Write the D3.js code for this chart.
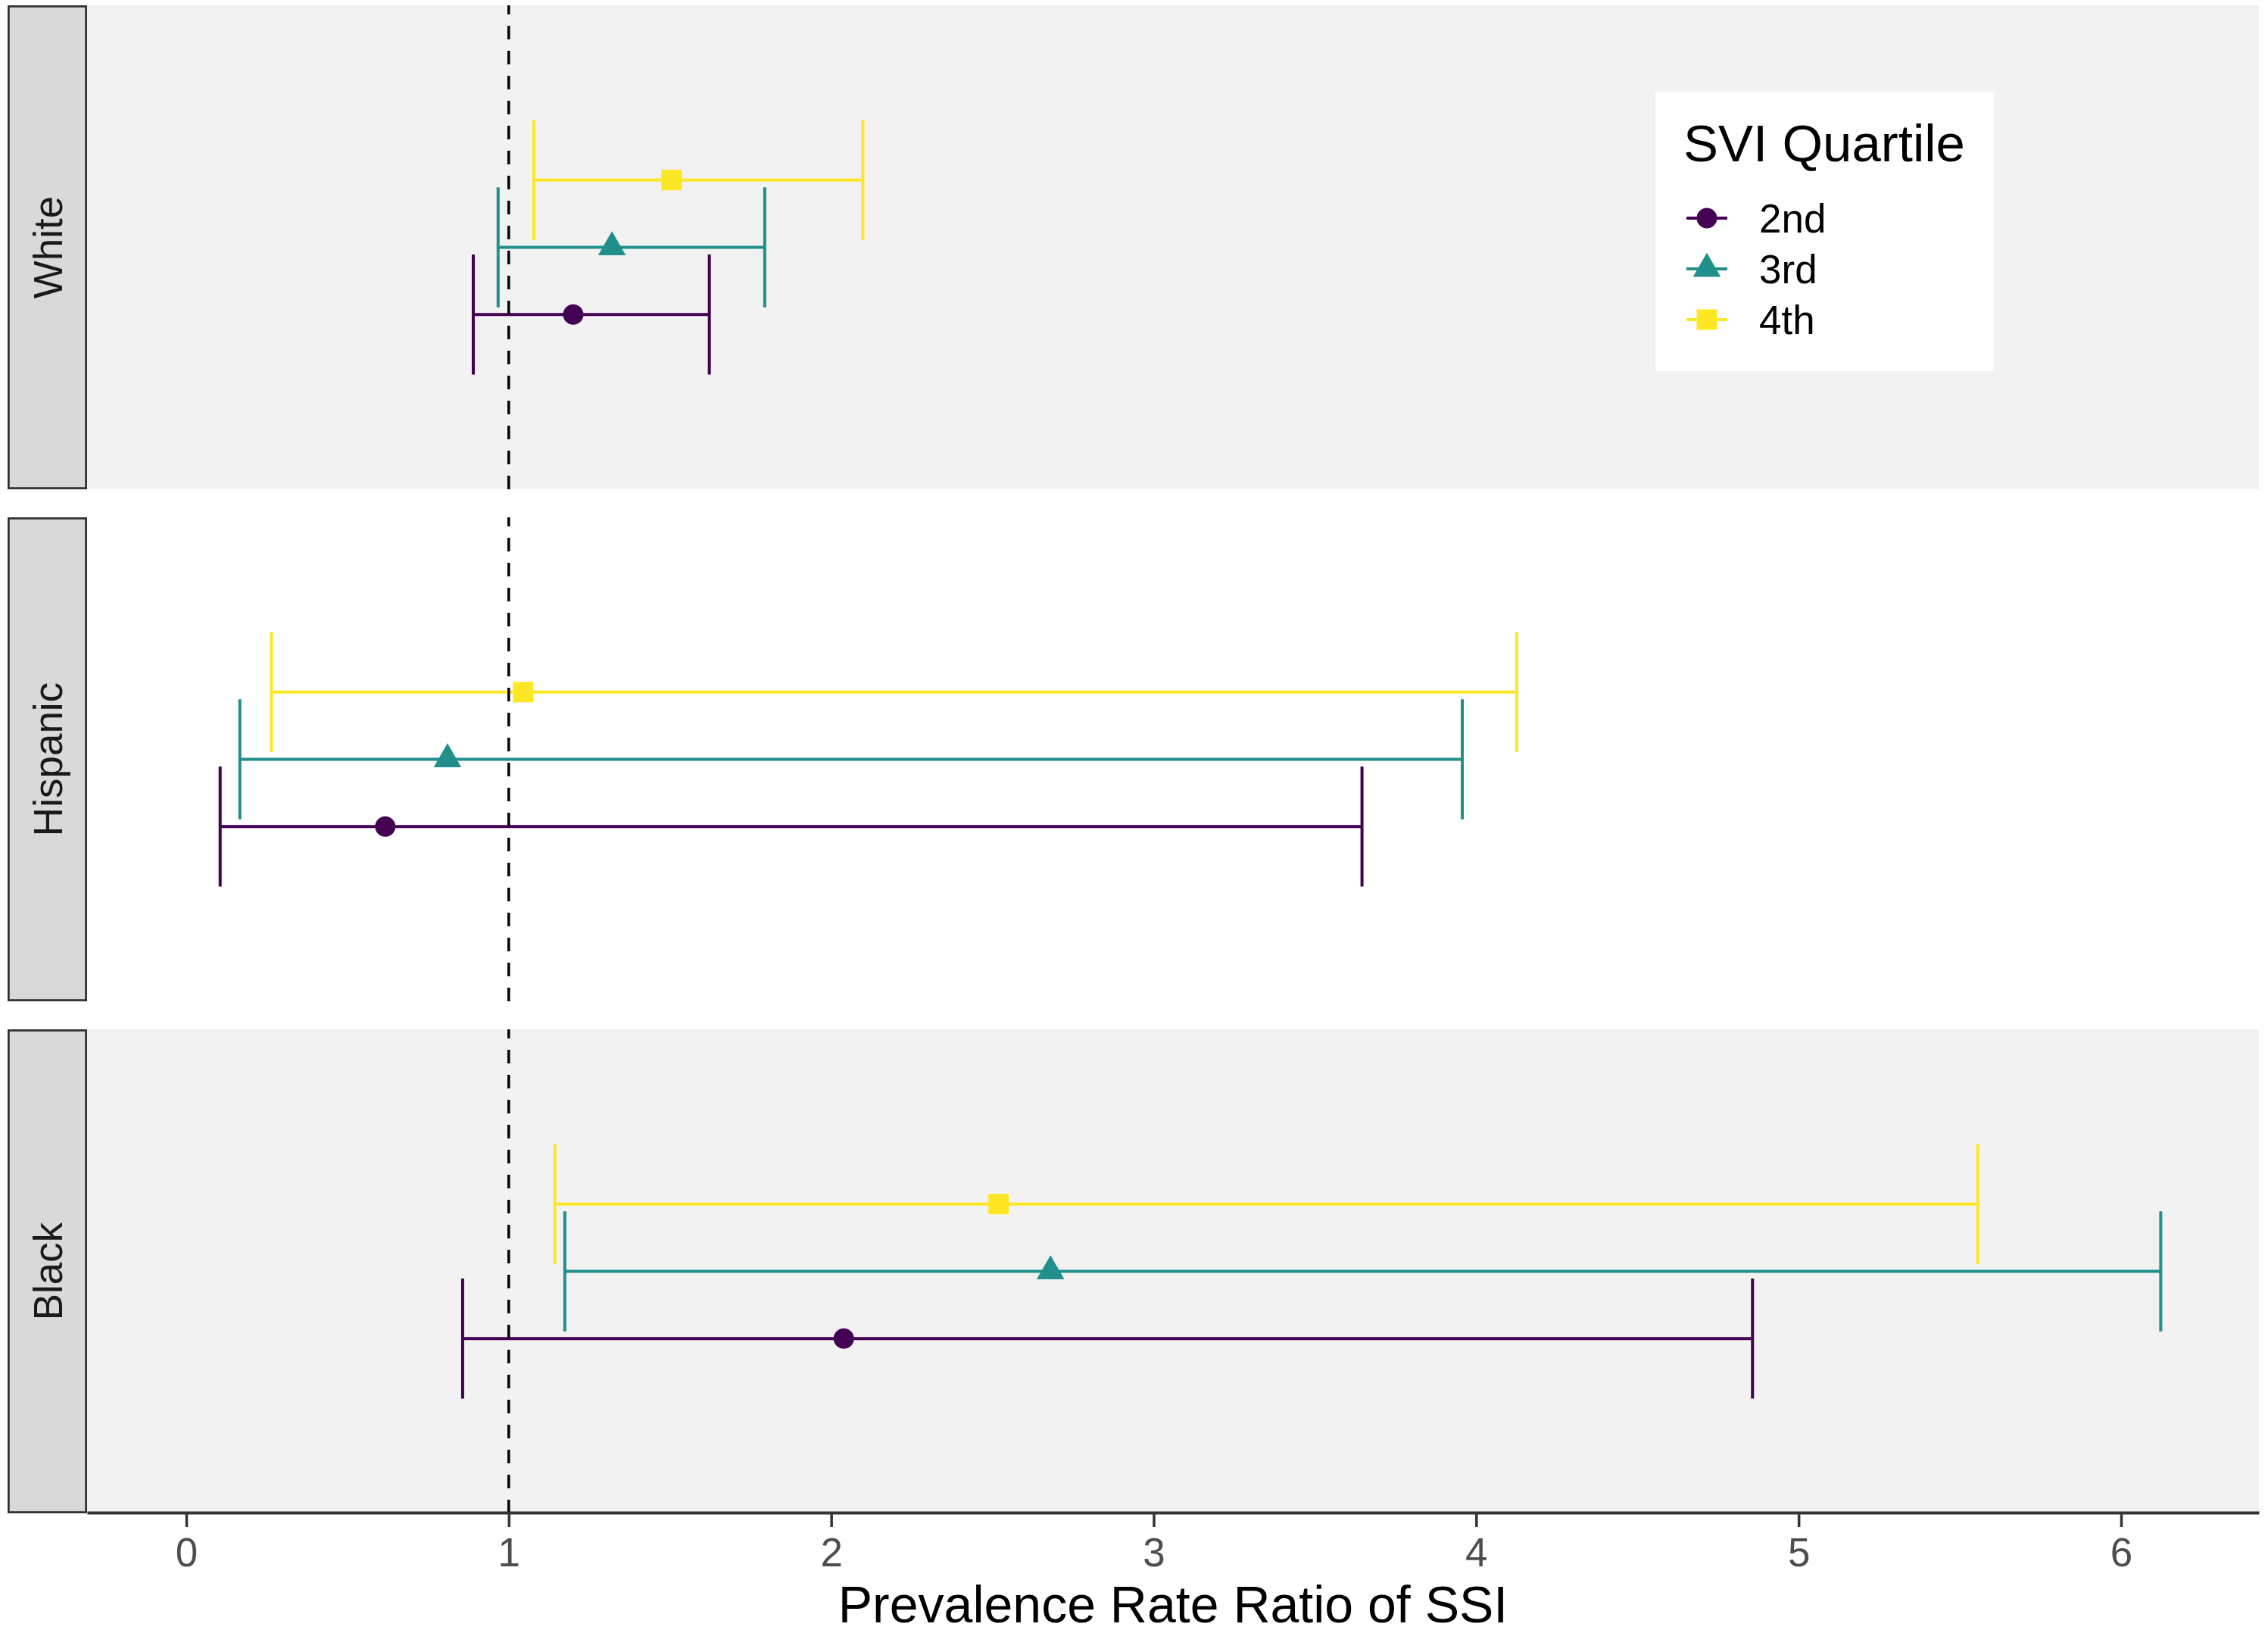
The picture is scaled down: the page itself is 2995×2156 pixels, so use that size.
<!DOCTYPE html>
<html>
<head>
<meta charset="utf-8">
<script src="https://cdn.jsdelivr.net/npm/d3@7"></script>
<style>
  html, body { margin: 0; padding: 0; background: #ffffff; }
  svg { display: block; }
  text { font-family: "Liberation Sans", Arial, Helvetica, sans-serif; }
</style>
</head>
<body>
<script>
// ---------------- DATA ----------------
const races = ["White", "Hispanic", "Black"];
const quartiles = ["2nd", "3rd", "4th"];
const quartileColors = ["#440154", "#21908C", "#FDE725"];
const quartileShapes = ["circle", "triangle", "square"];
const panelFills = ["#f2f2f2", "#ffffff", "#f2f2f2"];

// Prevalence rate ratio estimates and 95% CI, order: 2nd, 3rd, 4th
const estWhite    = [1.20, 1.32, 1.505];
const lowWhite    = [0.89, 0.967, 1.078];
const highWhite   = [1.622, 1.794, 2.098];

const estHispanic  = [0.617, 0.81, 1.045];
const lowHispanic  = [0.105, 0.166, 0.264];
const highHispanic = [3.646, 3.957, 4.126];

const estBlack    = [2.039, 2.68, 2.519];
const lowBlack    = [0.857, 1.174, 1.143];
const highBlack   = [4.857, 6.123, 5.556];

const xTicks = [0, 1, 2, 3, 4, 5, 6];
const refLine = 1;
const xTitle = "Prevalence Rate Ratio of SSI";
const legendTitle = "SVI Quartile";

// ---------------- BUILD ROWS ----------------
const estAll = [estWhite, estHispanic, estBlack];
const lowAll = [lowWhite, lowHispanic, lowBlack];
const highAll = [highWhite, highHispanic, highBlack];
const rows = [];
races.forEach((r, ri) => {
  quartiles.forEach((q, qi) => {
    rows.push({ race: r, quartile: q, qi: qi,
      est: estAll[ri][qi], low: lowAll[ri][qi], high: highAll[ri][qi] });
  });
});

// ---------------- LAYOUT ----------------
const W = 2995, H = 2156;
const panelLeft = 115, panelRight = 2983;
const stripLeft = 10;

const svg = d3.select("body").append("svg")
  .attr("width", W).attr("height", H)
  .attr("viewBox", `0 0 ${W} ${H}`);

const x = d3.scaleLinear()
  .domain([(panelLeft - 246) / 425.83, (panelRight - 246) / 425.83])
  .range([panelLeft, panelRight]);

const panelY = d3.scaleBand()
  .domain(races)
  .range([7, 1998])
  .paddingInner(37 / 676)
  .paddingOuter(0);

const color = d3.scaleOrdinal().domain(quartiles).range(quartileColors);
const shapeMap = { circle: d3.symbolCircle, triangle: d3.symbolTriangle, square: d3.symbolSquare };
const shapeSize = { circle: 572, triangle: 580, square: 729 };
const symbolFor = q => {
  const s = quartileShapes[quartiles.indexOf(q)];
  return d3.symbol().type(shapeMap[s]).size(shapeSize[s])();
};

// within-panel discrete y: one category at 1, expanded by 0.6; dodge width 0.5
const dodge = 0.5, capHalf = 0.149;
function innerY(race) {
  const top = panelY(race), bot = top + panelY.bandwidth();
  return d3.scaleLinear().domain([0.4, 1.6]).range([bot, top]);
}
const offsetFor = qi => 1 + (qi - 1) * dodge / 3;

// ---------------- PANELS ----------------
races.forEach((race, ri) => {
  const top = panelY(race), h = panelY.bandwidth();
  const y = innerY(race);
  const g = svg.append("g").attr("class", "panel");

  g.append("rect")
    .attr("x", panelLeft).attr("y", top)
    .attr("width", panelRight - panelLeft).attr("height", h)
    .attr("fill", panelFills[ri]);

  // strip
  g.append("rect")
    .attr("x", stripLeft + 1.4).attr("y", top + 1.4)
    .attr("width", panelLeft - stripLeft - 2.8).attr("height", h - 2.8)
    .attr("fill", "#d9d9d9").attr("stroke", "#333333").attr("stroke-width", 2.8);
  g.append("text")
    .attr("transform", `translate(${(stripLeft + panelLeft) / 2 + 19.5},${top + h / 2}) rotate(-90)`)
    .attr("text-anchor", "middle")
    .attr("font-size", 53)
    .attr("fill", "#1a1a1a")
    .text(race);

  const data = rows.filter(d => d.race === race);

  // error bars
  const eb = g.append("g").attr("class", "errorbars");
  eb.selectAll("line.h").data(data).join("line").attr("class", "h")
    .attr("x1", d => x(d.low)).attr("x2", d => x(d.high))
    .attr("y1", d => y(offsetFor(d.qi))).attr("y2", d => y(offsetFor(d.qi)))
    .attr("stroke", d => color(d.quartile)).attr("stroke-width", 4);
  eb.selectAll("line.lo").data(data).join("line").attr("class", "lo")
    .attr("x1", d => x(d.low)).attr("x2", d => x(d.low))
    .attr("y1", d => y(offsetFor(d.qi) - capHalf)).attr("y2", d => y(offsetFor(d.qi) + capHalf))
    .attr("stroke", d => color(d.quartile)).attr("stroke-width", 4);
  eb.selectAll("line.hi").data(data).join("line").attr("class", "hi")
    .attr("x1", d => x(d.high)).attr("x2", d => x(d.high))
    .attr("y1", d => y(offsetFor(d.qi) - capHalf)).attr("y2", d => y(offsetFor(d.qi) + capHalf))
    .attr("stroke", d => color(d.quartile)).attr("stroke-width", 4);

  // reference line
  g.append("line")
    .attr("x1", x(refLine)).attr("x2", x(refLine))
    .attr("y1", top + h).attr("y2", top)
    .attr("stroke", "#000000").attr("stroke-width", 3.5)
    .attr("stroke-dasharray", "18,15");

  // points
  g.append("g").selectAll("path").data(data).join("path")
    .attr("transform", d => `translate(${x(d.est)},${y(offsetFor(d.qi))})`)
    .attr("d", d => symbolFor(d.quartile))
    .attr("fill", d => color(d.quartile));
});

// ---------------- X AXIS ----------------
const axisY = panelY(races[2]) + panelY.bandwidth() - 1;
const axis = svg.append("g")
  .attr("transform", `translate(0,${axisY})`)
  .call(d3.axisBottom(x).tickValues(xTicks).tickFormat(d3.format("d"))
    .tickSize(19).tickSizeOuter(0).tickPadding(14));
axis.select(".domain").attr("stroke", "#333333").attr("stroke-width", 4);
axis.selectAll(".tick line").attr("stroke", "#333333").attr("stroke-width", 3.5);
axis.selectAll(".tick text")
  .attr("font-size", 53).attr("fill", "#4d4d4d")
  .attr("font-family", "'Liberation Sans', Arial, Helvetica, sans-serif");

svg.append("text")
  .attr("x", (panelLeft + panelRight) / 2).attr("y", 2142)
  .attr("text-anchor", "middle")
  .attr("font-size", 68)
  .attr("fill", "#000000")
  .text(xTitle);

// ---------------- LEGEND ----------------
const lg = svg.append("g").attr("class", "legend");
lg.append("rect")
  .attr("x", 2186).attr("y", 121).attr("width", 447).attr("height", 369)
  .attr("fill", "#ffffff");
lg.append("text")
  .attr("x", 2223).attr("y", 213)
  .attr("font-size", 69).attr("fill", "#000000")
  .text(legendTitle);
const legendRowY = d3.scalePoint().domain(quartiles).range([288, 422]);
const items = lg.selectAll("g.item").data(quartiles).join("g").attr("class", "item")
  .attr("transform", q => `translate(0,${legendRowY(q)})`);
items.append("line")
  .attr("x1", 2227).attr("x2", 2281).attr("y1", 0).attr("y2", 0)
  .attr("stroke", q => color(q)).attr("stroke-width", 4);
items.append("path")
  .attr("transform", "translate(2254,0)")
  .attr("d", q => symbolFor(q))
  .attr("fill", q => color(q));
items.append("text")
  .attr("x", 2323).attr("y", 19)
  .attr("font-size", 53).attr("fill", "#000000")
  .text(q => q);
</script>
</body>
</html>
